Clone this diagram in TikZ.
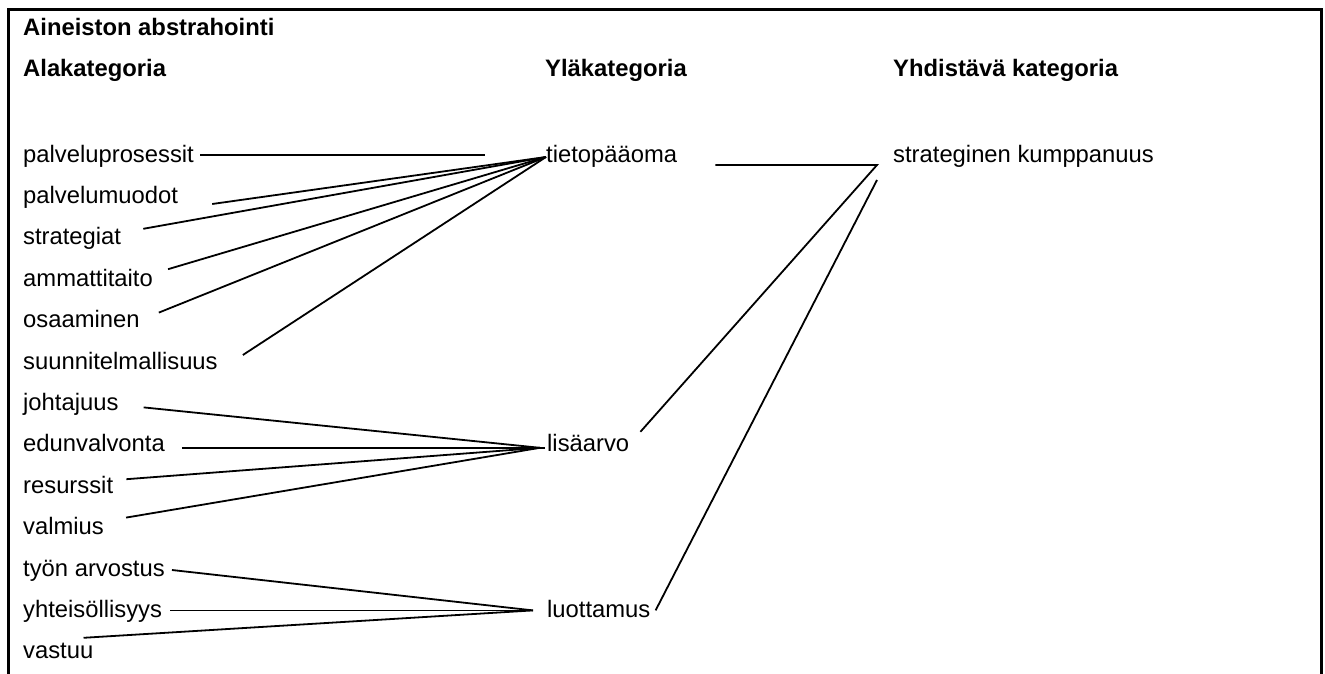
\documentclass[tikz,border=0pt]{standalone}
\usepackage{fontspec}
\setmainfont{Liberation Sans}
\begin{document}
\begin{tikzpicture}[x=1pt,y=-1pt,
  lbl/.style={anchor=base west,inner sep=0pt,font=\fontsize{23.8}{28}\selectfont},
  head/.style={anchor=base west,inner sep=0pt,font=\fontsize{23.8}{28}\selectfont\bfseries},
  conn/.style={line width=1.8pt},
  framestyle/.style={line width=3pt}]
\useasboundingbox (0,0) rectangle (1325,674);
% frame (open at the bottom)
\coordinate (fbl) at (8.5,674);
\coordinate (ftl) at (8.5,9.5);
\coordinate (ftr) at (1321.5,9.5);
\coordinate (fbr) at (1321.5,674);
\draw[framestyle] (fbl) -- (ftl) -- (ftr) -- (fbr);
% headings
\node[head] (title) at (23,36) {Aineiston abstrahointi};
\node[head] (hA) at (23,77) {Alakategoria};
\node[head] (hY) at (545,77) {Yläkategoria};
\node[head] (hZ) at (893,77) {Yhdistävä kategoria};
% left column
\node[lbl] (a0) at (23,162) {palveluprosessit};
\node[lbl] (a1) at (23,203.4) {palvelumuodot};
\node[lbl] (a2) at (23,244.8) {strategiat};
\node[lbl] (a3) at (23,286.2) {ammattitaito};
\node[lbl] (a4) at (23,327.6) {osaaminen};
\node[lbl] (a5) at (23,369) {suunnitelmallisuus};
\node[lbl] (a6) at (23,410.4) {johtajuus};
\node[lbl] (a7) at (23,451.8) {edunvalvonta};
\node[lbl] (a8) at (23,493.2) {resurssit};
\node[lbl] (a9) at (23,534.6) {valmius};
\node[lbl] (a10) at (23,576) {työn arvostus};
\node[lbl] (a11) at (23,617.4) {yhteisöllisyys};
\node[lbl] (a12) at (23,658.8) {vastuu};
% middle column
\node[lbl] (tp) at (546,162) {tietopääoma};
\node[lbl] (la) at (547,451.8) {lisäarvo};
\node[lbl] (lu) at (547,617.4) {luottamus};
% right column
\node[lbl] (sk) at (893,162) {strateginen kumppanuus};
% hubs
\coordinate (h1) at ([shift={(0,-5)}]tp.base west);
\coordinate (h2) at ([shift={(-7,-4)}]la.base west);
\coordinate (h2e) at ([shift={(-2,-4)}]la.base west);
\coordinate (h3) at ([shift={(-14,-7)}]lu.base west);
\coordinate (c1) at ([shift={(-16,3)}]sk.base west);
% connectors to tietopaaoma
\draw[conn] ([shift={(6.4,-7)}]a0.base east) -- ([shift={(-61,-7)}]tp.base west);
\draw[conn] ([shift={(34,0.6)}]a1.base east) -- (h1);
\draw[conn] ([shift={(22,-16)}]a2.base east) -- (h1);
\draw[conn] ([shift={(15,-17)}]a3.base east) -- (h1);
\draw[conn] ([shift={(19,-15)}]a4.base east) -- (h1);
\draw[conn] ([shift={(25,-14)}]a5.base east) -- (h1);
% connectors to lisaarvo
\draw[conn] ([shift={(25,-3)}]a6.base east) -- (h2);
\draw[conn] ([shift={(17,-4)}]a7.base east) -- (h2e);
\draw[conn] ([shift={(13,-14)}]a8.base east) -- (h2);
\draw[conn] ([shift={(22,-17)}]a9.base east) -- (h2);
% connectors to luottamus
\draw[conn] ([shift={(7,-6)}]a10.base east) -- (h3);
\draw[conn] ([shift={(8,-7)}]a11.base east) -- (h3);
\draw[conn] ([shift={(-10,-21)}]a12.base east) -- (h3);
% connectors to strateginen kumppanuus
\draw[conn] ([shift={(38,3)}]tp.base east) -- (c1) -- ([shift={(11,-20)}]la.base east);
\draw[conn] ([shift={(-16,18)}]sk.base west) -- ([shift={(5,-7)}]lu.base east);
\end{tikzpicture}
\end{document}
